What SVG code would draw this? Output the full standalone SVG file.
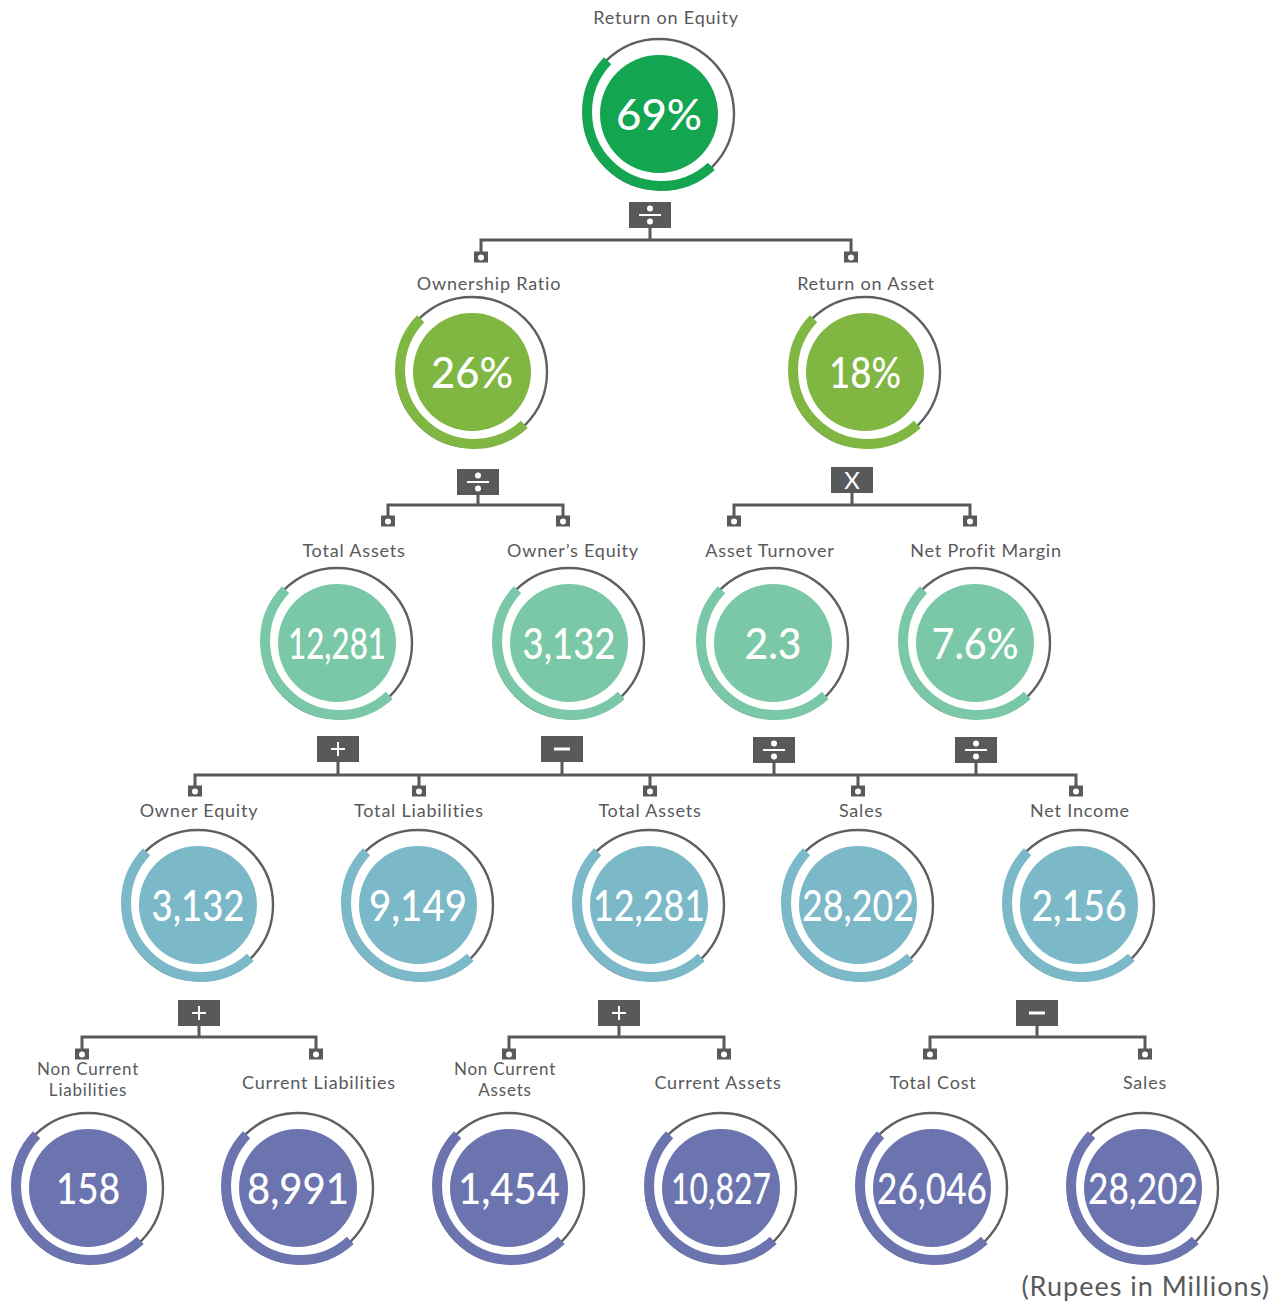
<svg xmlns="http://www.w3.org/2000/svg" width="1288" height="1304" viewBox="0 0 1288 1304">
<defs>
<style>
.bg{fill:#fff}
.ring{fill:none;stroke:#5f5f61;stroke-width:2.4}
.arc{fill:none;stroke-width:10}
.lbl{font-family:Lato,"Open Sans",sans-serif;font-size:18px;fill:#58595b;text-anchor:middle;letter-spacing:0.8px}
.lbl2{font-size:17px}
.num{font-family:Lato,"Open Sans",sans-serif;font-size:42px;font-weight:500;fill:#fff;text-anchor:middle}
.op{fill:#58595b}
.ln{fill:none;stroke:#58595b;stroke-width:3}
.f0{fill:#13a550}.s0{stroke:#13a550}
.f1{fill:#80b743}.s1{stroke:#80b743}
.f2{fill:#7bc8a9}.s2{stroke:#7bc8a9}
.f3{fill:#7bb8c8}.s3{stroke:#7bb8c8}
.f4{fill:#6c74b0}.s4{stroke:#6c74b0}
</style>
<g id="sb"><rect x="-7" y="-5.5" width="14" height="11" class="op"/><circle cx="0" cy="0.5" r="3" fill="#fff"/></g>
<g id="div"><rect x="-21" y="-13" width="42" height="26" class="op"/><rect x="-11" y="-1" width="22" height="2" fill="#fff"/><circle cx="0" cy="-6.5" r="3" fill="#fff"/><circle cx="0" cy="6.5" r="3" fill="#fff"/></g>
<g id="plus"><rect x="-21" y="-13" width="42" height="26" class="op"/><rect x="-7" y="-1" width="14" height="2" fill="#fff"/><rect x="-1" y="-7" width="2" height="14" fill="#fff"/></g>
<g id="minus"><rect x="-21" y="-13" width="42" height="26" class="op"/><rect x="-8" y="-1.5" width="16" height="3" fill="#fff"/></g>
<g id="times"><rect x="-21" y="-13" width="42" height="26" class="op"/><text x="0" y="9" font-family="Lato,'Open Sans',sans-serif" font-size="24" fill="#fff" text-anchor="middle">X</text></g>
<path id="arcp" d="M 52.3 52.3 A 74 74 0 0 1 -51.4 -53.2"/>
</defs>
<rect width="1288" height="1304" class="bg"/>

<g id="connectors">
<use href="#div" x="650" y="215"/>
<path class="ln" d="M650 228 V240 M481 255 V240 H851 V255"/>
<use href="#sb" x="481" y="257"/><use href="#sb" x="851" y="257"/>

<use href="#div" x="478" y="482"/>
<path class="ln" d="M478 495 V505 M388 520 V505 H563 V520"/>
<use href="#sb" x="388" y="521"/><use href="#sb" x="563" y="521"/>

<use href="#times" x="852" y="480"/>
<path class="ln" d="M852 493 V505 M734 520 V505 H970 V520"/>
<use href="#sb" x="734" y="521"/><use href="#sb" x="970" y="521"/>

<use href="#plus" x="338" y="749"/>
<use href="#minus" x="562" y="749"/>
<use href="#div" x="774" y="750"/>
<use href="#div" x="976" y="750"/>
<path class="ln" d="M338 762 V775 M562 762 V775 M774 763 V775 M976 763 V775 M195 790 V775 H1076 V790 M419 775 V790 M650 775 V790 M858 775 V790"/>
<use href="#sb" x="195" y="791"/><use href="#sb" x="419" y="791"/><use href="#sb" x="650" y="791"/><use href="#sb" x="858" y="791"/><use href="#sb" x="1076" y="791"/>

<use href="#plus" x="199" y="1013"/>
<path class="ln" d="M199 1026 V1037 M82 1052 V1037 H316 V1052"/>
<use href="#sb" x="82" y="1054"/><use href="#sb" x="316" y="1054"/>

<use href="#plus" x="619" y="1013"/>
<path class="ln" d="M619 1026 V1037 M509 1052 V1037 H724 V1052"/>
<use href="#sb" x="509" y="1054"/><use href="#sb" x="724" y="1054"/>

<use href="#minus" x="1037" y="1013"/>
<path class="ln" d="M1037 1026 V1037 M930 1052 V1037 H1145 V1052"/>
<use href="#sb" x="930" y="1054"/><use href="#sb" x="1145" y="1054"/>
</g>

<g id="n-roe" transform="translate(659,114)">
<circle r="75" class="ring"/><use href="#arcp" class="arc s0"/><circle r="59" class="f0"/>
<text y="16" class="num" textLength="86" lengthAdjust="spacingAndGlyphs">69%</text>
</g>
<text x="666" y="24" class="lbl">Return on Equity</text>

<g id="n-own" transform="translate(472,372)">
<circle r="75" class="ring"/><use href="#arcp" class="arc s1"/><circle r="59" class="f1"/>
<text y="16" class="num" textLength="82" lengthAdjust="spacingAndGlyphs">26%</text>
</g>
<text x="489" y="290" class="lbl">Ownership Ratio</text>

<g id="n-roa" transform="translate(865,372)">
<circle r="75" class="ring"/><use href="#arcp" class="arc s1"/><circle r="59" class="f1"/>
<text y="16" class="num" textLength="72" lengthAdjust="spacingAndGlyphs">18%</text>
</g>
<text x="866" y="290" class="lbl">Return on Asset</text>

<g id="n-ta1" transform="translate(337,643)">
<circle r="75" class="ring"/><use href="#arcp" class="arc s2"/><circle r="59" class="f2"/>
<text y="16" class="num" textLength="98" lengthAdjust="spacingAndGlyphs">12,281</text>
</g>
<text x="354" y="557" class="lbl">Total Assets</text>

<g id="n-oe1" transform="translate(569,643)">
<circle r="75" class="ring"/><use href="#arcp" class="arc s2"/><circle r="59" class="f2"/>
<text y="16" class="num" textLength="93" lengthAdjust="spacingAndGlyphs">3,132</text>
</g>
<text x="573" y="557" class="lbl">Owner’s Equity</text>

<g id="n-at" transform="translate(773,643)">
<circle r="75" class="ring"/><use href="#arcp" class="arc s2"/><circle r="59" class="f2"/>
<text y="16" class="num" textLength="57" lengthAdjust="spacingAndGlyphs">2.3</text>
</g>
<text x="770" y="557" class="lbl">Asset Turnover</text>

<g id="n-npm" transform="translate(975,643)">
<circle r="75" class="ring"/><use href="#arcp" class="arc s2"/><circle r="59" class="f2"/>
<text y="16" class="num" textLength="87" lengthAdjust="spacingAndGlyphs">7.6%</text>
</g>
<text x="986" y="557" class="lbl">Net Profit Margin</text>

<g id="n-oe2" transform="translate(198,905)">
<circle r="75" class="ring"/><use href="#arcp" class="arc s3"/><circle r="59" class="f3"/>
<text y="16" class="num" textLength="93" lengthAdjust="spacingAndGlyphs">3,132</text>
</g>
<text x="199" y="817" class="lbl">Owner Equity</text>

<g id="n-tl" transform="translate(418,905)">
<circle r="75" class="ring"/><use href="#arcp" class="arc s3"/><circle r="59" class="f3"/>
<text y="16" class="num" textLength="98" lengthAdjust="spacingAndGlyphs">9,149</text>
</g>
<text x="419" y="817" class="lbl">Total Liabilities</text>

<g id="n-ta2" transform="translate(649,905)">
<circle r="75" class="ring"/><use href="#arcp" class="arc s3"/><circle r="59" class="f3"/>
<text y="16" class="num" textLength="112" lengthAdjust="spacingAndGlyphs">12,281</text>
</g>
<text x="650" y="817" class="lbl">Total Assets</text>

<g id="n-sales1" transform="translate(858,905)">
<circle r="75" class="ring"/><use href="#arcp" class="arc s3"/><circle r="59" class="f3"/>
<text y="16" class="num" textLength="112" lengthAdjust="spacingAndGlyphs">28,202</text>
</g>
<text x="861" y="817" class="lbl">Sales</text>

<g id="n-ni" transform="translate(1079,905)">
<circle r="75" class="ring"/><use href="#arcp" class="arc s3"/><circle r="59" class="f3"/>
<text y="16" class="num" textLength="95" lengthAdjust="spacingAndGlyphs">2,156</text>
</g>
<text x="1080" y="817" class="lbl">Net Income</text>

<g id="n-ncl" transform="translate(88,1188)">
<circle r="75" class="ring"/><use href="#arcp" class="arc s4"/><circle r="59" class="f4"/>
<text y="16" class="num" textLength="64" lengthAdjust="spacingAndGlyphs">158</text>
</g>
<text x="88" y="1075" class="lbl lbl2">Non Current</text>
<text x="88" y="1096" class="lbl lbl2">Liabilities</text>

<g id="n-cl" transform="translate(298,1188)">
<circle r="75" class="ring"/><use href="#arcp" class="arc s4"/><circle r="59" class="f4"/>
<text y="16" class="num" textLength="102" lengthAdjust="spacingAndGlyphs">8,991</text>
</g>
<text x="319" y="1089" class="lbl">Current Liabilities</text>

<g id="n-nca" transform="translate(509,1188)">
<circle r="75" class="ring"/><use href="#arcp" class="arc s4"/><circle r="59" class="f4"/>
<text y="16" class="num" textLength="102" lengthAdjust="spacingAndGlyphs">1,454</text>
</g>
<text x="505" y="1075" class="lbl lbl2">Non Current</text>
<text x="505" y="1096" class="lbl lbl2">Assets</text>

<g id="n-ca" transform="translate(721,1188)">
<circle r="75" class="ring"/><use href="#arcp" class="arc s4"/><circle r="59" class="f4"/>
<text y="16" class="num" textLength="100" lengthAdjust="spacingAndGlyphs">10,827</text>
</g>
<text x="718" y="1089" class="lbl">Current Assets</text>

<g id="n-tc" transform="translate(932,1188)">
<circle r="75" class="ring"/><use href="#arcp" class="arc s4"/><circle r="59" class="f4"/>
<text y="16" class="num" textLength="110" lengthAdjust="spacingAndGlyphs">26,046</text>
</g>
<text x="933" y="1089" class="lbl">Total Cost</text>

<g id="n-sales2" transform="translate(1143,1188)">
<circle r="75" class="ring"/><use href="#arcp" class="arc s4"/><circle r="59" class="f4"/>
<text y="16" class="num" textLength="110" lengthAdjust="spacingAndGlyphs">28,202</text>
</g>
<text x="1145" y="1089" class="lbl">Sales</text>

<text x="1270" y="1296" font-family="Lato,'Open Sans',sans-serif" font-size="27" fill="#58595b" text-anchor="end" letter-spacing="1">(Rupees in Millions)</text>
</svg>
